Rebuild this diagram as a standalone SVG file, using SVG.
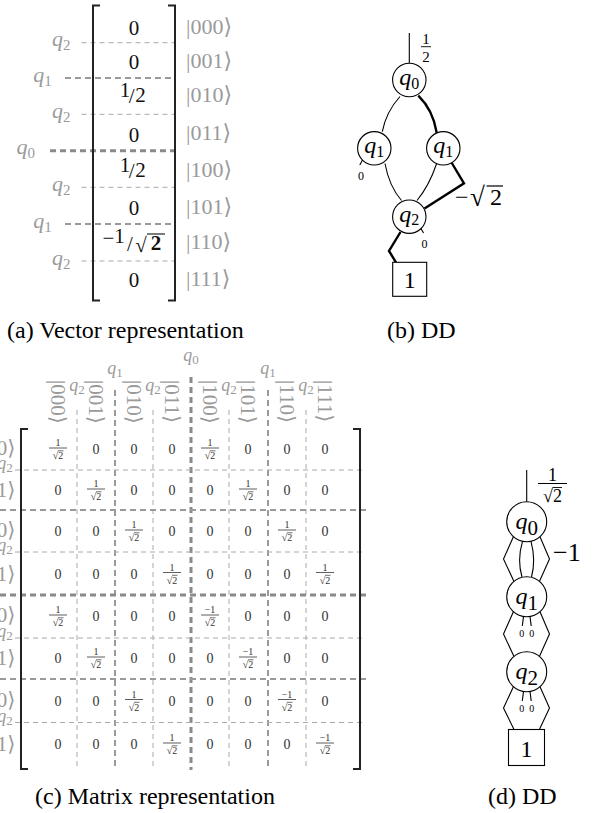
<svg xmlns="http://www.w3.org/2000/svg" width="603" height="813" viewBox="0 0 603 813">
<style>
text{font-family:"Liberation Serif","DejaVu Serif","DejaVu Sans",serif}
.q{font-style:italic}
.l2{stroke:#aaa;stroke-width:1;stroke-dasharray:5 4;fill:none}
.l1{stroke:#9a9a9a;stroke-width:2;stroke-dasharray:6 4;fill:none}
.l0{stroke:#8a8a8a;stroke-width:3;stroke-dasharray:6 4;fill:none}
.br{stroke:#222;stroke-width:2;fill:none}
.e{stroke:#000;stroke-width:1.1;fill:none}
.E{stroke:#000;stroke-width:2.4;fill:none}
.n{fill:#fff;stroke:#000;stroke-width:1.1}
.v{font-size:21px;fill:#111;text-anchor:middle}
.ket{font-size:22px;fill:#9a9a9a}
.ck{font-size:21px;fill:#9a9a9a}
.lab{font-size:22px;fill:#9a9a9a;text-anchor:end}
.cl{font-size:18px;fill:#9a9a9a;text-anchor:middle}
.z{font-size:14px;fill:#333;text-anchor:middle}
.fr{font-size:10px;fill:#333;text-anchor:middle}
.cap{font-size:24px;fill:#000}
.nl{font-size:24px;fill:#000;text-anchor:middle}
</style>
<defs>
  <!-- stacked 1/sqrt2 entry, centred on its origin -->
  <g id="f">
    <text class="fr" x="0" y="-3">1</text>
    <path d="M-9,-1H9" stroke="#333" stroke-width="0.8"/>
    <text class="fr" x="0" y="10">√2</text>
    <path d="M0,1.8H5.5" stroke="#333" stroke-width="0.7"/>
  </g>
  <g id="nf">
    <text class="fr" x="0" y="-3">−1</text>
    <path d="M-9,-1H9" stroke="#333" stroke-width="0.8"/>
    <text class="fr" x="0" y="10">√2</text>
    <path d="M0,1.8H5.5" stroke="#333" stroke-width="0.7"/>
  </g>
</defs>

<!-- (a) state vector -->
<g id="vector">
  <g id="vector-lines">
    <path class="l2" d="M81.5,42.7H175"/>
    <path class="l1" d="M65,78H175"/>
    <path class="l2" d="M81.5,114.3H175"/>
    <path class="l0" d="M50,150.7H175"/>
    <path class="l2" d="M81.5,187.3H175"/>
    <path class="l1" d="M65,224H175"/>
    <path class="l2" d="M81.5,261H175"/>
  </g>
  <path class="br" d="M100,5.5H93V300.5H100"/>
  <path class="br" d="M168,5.5H175V300.5H168"/>
  <g id="vector-labels">
    <text class="lab" x="70.5" y="46.2"><tspan class="q">q</tspan><tspan font-size="15" dy="4">2</tspan></text>
    <text class="lab" x="51.7" y="81.5"><tspan class="q">q</tspan><tspan font-size="15" dy="4">1</tspan></text>
    <text class="lab" x="70.5" y="117.8"><tspan class="q">q</tspan><tspan font-size="15" dy="4">2</tspan></text>
    <text class="lab" x="35" y="154.2"><tspan class="q">q</tspan><tspan font-size="15" dy="4">0</tspan></text>
    <text class="lab" x="70.5" y="190.8"><tspan class="q">q</tspan><tspan font-size="15" dy="4">2</tspan></text>
    <text class="lab" x="51.7" y="227.5"><tspan class="q">q</tspan><tspan font-size="15" dy="4">1</tspan></text>
    <text class="lab" x="70.5" y="264.5"><tspan class="q">q</tspan><tspan font-size="15" dy="4">2</tspan></text>
  </g>
  <g id="vector-entries">
    <text class="v" x="134" y="35">0</text>
    <text class="v" x="134" y="68.5">0</text>
    <text class="v" x="125" y="97" font-size="14">1</text>
    <text class="v" x="131.7" y="102.5" font-size="25">/</text>
    <text class="v" x="140.5" y="102" font-size="14">2</text>
    <text class="v" x="134" y="141.5">0</text>
    <text class="v" x="125" y="172" font-size="14">1</text>
    <text class="v" x="131.7" y="177.5" font-size="25">/</text>
    <text class="v" x="140.5" y="177" font-size="14">2</text>
    <text class="v" x="134" y="215">0</text>
    <text class="v" x="108.5" y="245">−</text>
    <text class="v" x="119.5" y="243" font-size="14">1</text>
    <text class="v" x="130" y="250.5" font-size="25">/</text>
    <text class="v" x="141" y="251.5" font-size="24">√</text>
    <text class="v" x="156" y="250" font-weight="bold">2</text>
    <path d="M147,234H165" stroke="#111" stroke-width="1.1"/>
    <text class="v" x="134" y="287">0</text>
  </g>
  <g id="vector-kets">
    <text class="ket" x="186" y="34">|000⟩</text>
    <text class="ket" x="186" y="67.5">|001⟩</text>
    <text class="ket" x="186" y="101.5">|010⟩</text>
    <text class="ket" x="186" y="140">|011⟩</text>
    <text class="ket" x="186" y="177">|100⟩</text>
    <text class="ket" x="186" y="214">|101⟩</text>
    <text class="ket" x="186" y="249">|110⟩</text>
    <text class="ket" x="186" y="286">|111⟩</text>
  </g>
</g>

<!-- (b) decision diagram of the vector -->
<g id="dd-vector">
  <g id="dd-vector-edges">
    <path class="e" d="M409.3,33V63.3"/>
    <path class="e" d="M400,96.5Q386,112 382.3,131.7"/>
    <path class="E" d="M418.3,95.7Q433,110 436.7,132.7"/>
    <path class="e" d="M385,163.5Q389,186 401.5,200.5"/>
    <path class="e" d="M436.5,164Q429,186 417,200.5"/>
    <path class="E" d="M451.5,162.5L464,183.3L424.5,208.5"/>
    <path class="E" d="M400.5,232L389,251L396,262.3"/>
    <path class="e" d="M362.5,160L359.8,165"/>
    <path class="e" d="M421,228.5L423.5,233"/>
  </g>
  <text x="426" y="43.5" font-size="15" text-anchor="middle">1</text>
  <path d="M421,46.7H431" stroke="#000" stroke-width="0.9"/>
  <text x="426" y="61.5" font-size="15" text-anchor="middle">2</text>
  <text x="361" y="180" font-size="12" text-anchor="middle">0</text>
  <text x="424.5" y="248.3" font-size="12" text-anchor="middle">0</text>
  <text x="455" y="205" font-size="24">−</text>
  <text x="470" y="206" font-size="27">√</text>
  <text x="490" y="205" font-size="24">2</text>
  <path d="M486.5,186H503" stroke="#000" stroke-width="1.2"/>
  <g id="b-q0"><circle class="n" cx="409.3" cy="80" r="16.7"/><text class="nl" x="409.3" y="85"><tspan class="q">q</tspan><tspan font-size="16" dy="3.5">0</tspan></text></g>
  <g id="b-q1a"><circle class="n" cx="374.3" cy="148.3" r="16.7"/><text class="nl" x="374.3" y="153.3"><tspan class="q">q</tspan><tspan font-size="16" dy="3.5">1</tspan></text></g>
  <g id="b-q1b"><circle class="n" cx="443.3" cy="148.3" r="16.7"/><text class="nl" x="443.3" y="153.3"><tspan class="q">q</tspan><tspan font-size="16" dy="3.5">1</tspan></text></g>
  <g id="b-q2"><circle class="n" cx="409.3" cy="216.7" r="16.7"/><text class="nl" x="409.3" y="221.7"><tspan class="q">q</tspan><tspan font-size="16" dy="3.5">2</tspan></text></g>
  <g id="b-one"><rect x="392.7" y="262.3" width="34" height="34" fill="#fff" stroke="#000" stroke-width="1.1"/><text class="nl" x="409.7" y="288">1</text></g>
</g>

<text class="cap" x="7" y="338">(a) Vector representation</text>
<text class="cap" x="387" y="338">(b) DD</text>

<!-- (c) operator matrix -->
<g id="matrix">
  <g id="matrix-lines">
    <path class="l2" d="M77,410V770"/>
    <path class="l1" d="M115,390V770"/>
    <path class="l2" d="M153,410V770"/>
    <path class="l0" d="M191,377V770"/>
    <path class="l2" d="M229,410V770"/>
    <path class="l1" d="M268,390V770"/>
    <path class="l2" d="M306,410V770"/>
    <path class="l2" d="M15,470H366"/>
    <path class="l1" d="M-20,510H366"/>
    <path class="l2" d="M15,552H366"/>
    <path class="l0" d="M-20,595H366"/>
    <path class="l2" d="M15,638H366"/>
    <path class="l1" d="M-20,679H366"/>
    <path class="l2" d="M15,722.5H366"/>
  </g>
  <path class="br" d="M28,429H21V769H28"/>
  <path class="br" d="M353,429H360V769H353"/>
  <g id="matrix-col-labels">
    <text class="cl" x="77" y="391"><tspan class="q">q</tspan><tspan font-size="13" dy="3">2</tspan></text>
    <text class="cl" x="115" y="374"><tspan class="q">q</tspan><tspan font-size="13" dy="3">1</tspan></text>
    <text class="cl" x="153" y="391"><tspan class="q">q</tspan><tspan font-size="13" dy="3">2</tspan></text>
    <text class="cl" x="191" y="361"><tspan class="q">q</tspan><tspan font-size="13" dy="3">0</tspan></text>
    <text class="cl" x="229" y="391"><tspan class="q">q</tspan><tspan font-size="13" dy="3">2</tspan></text>
    <text class="cl" x="268" y="374"><tspan class="q">q</tspan><tspan font-size="13" dy="3">1</tspan></text>
    <text class="cl" x="306" y="391"><tspan class="q">q</tspan><tspan font-size="13" dy="3">2</tspan></text>
    <text class="ck" transform="translate(51,380) rotate(90)">|000⟩</text>
    <text class="ck" transform="translate(89,380) rotate(90)">|001⟩</text>
    <text class="ck" transform="translate(127,380) rotate(90)">|010⟩</text>
    <text class="ck" transform="translate(165,380) rotate(90)">|011⟩</text>
    <text class="ck" transform="translate(203,380) rotate(90)">|100⟩</text>
    <text class="ck" transform="translate(241,380) rotate(90)">|101⟩</text>
    <text class="ck" transform="translate(280,380) rotate(90)">|110⟩</text>
    <text class="ck" transform="translate(318,380) rotate(90)">|111⟩</text>
  </g>
  <g id="matrix-row-labels">
    <text class="ck" x="15.5" y="455" text-anchor="end">|000⟩</text>
    <text class="ck" x="15.5" y="497" text-anchor="end">|001⟩</text>
    <text class="ck" x="15.5" y="537" text-anchor="end">|010⟩</text>
    <text class="ck" x="15.5" y="580.5" text-anchor="end">|011⟩</text>
    <text class="ck" x="15.5" y="622" text-anchor="end">|100⟩</text>
    <text class="ck" x="15.5" y="665" text-anchor="end">|101⟩</text>
    <text class="ck" x="15.5" y="706.5" text-anchor="end">|110⟩</text>
    <text class="ck" x="15.5" y="751" text-anchor="end">|111⟩</text>
    <text class="cl" x="5" y="469" text-anchor="end"><tspan class="q">q</tspan><tspan font-size="13" dy="3">2</tspan></text>
    <text class="cl" x="5" y="551" text-anchor="end"><tspan class="q">q</tspan><tspan font-size="13" dy="3">2</tspan></text>
    <text class="cl" x="5" y="637" text-anchor="end"><tspan class="q">q</tspan><tspan font-size="13" dy="3">2</tspan></text>
    <text class="cl" x="5" y="721.5" text-anchor="end"><tspan class="q">q</tspan><tspan font-size="13" dy="3">2</tspan></text>
  </g>
  <g id="matrix-entries">
    <use href="#f" x="58" y="449"/><text class="z" x="96" y="454">0</text><text class="z" x="134" y="454">0</text><text class="z" x="172" y="454">0</text>
    <use href="#f" x="210" y="449"/><text class="z" x="248" y="454">0</text><text class="z" x="287" y="454">0</text><text class="z" x="325" y="454">0</text>

    <text class="z" x="58" y="495">0</text><use href="#f" x="96" y="490"/><text class="z" x="134" y="495">0</text><text class="z" x="172" y="495">0</text>
    <text class="z" x="210" y="495">0</text><use href="#f" x="248" y="490"/><text class="z" x="287" y="495">0</text><text class="z" x="325" y="495">0</text>

    <text class="z" x="58" y="536">0</text><text class="z" x="96" y="536">0</text><use href="#f" x="134" y="531"/><text class="z" x="172" y="536">0</text>
    <text class="z" x="210" y="536">0</text><text class="z" x="248" y="536">0</text><use href="#f" x="287" y="531"/><text class="z" x="325" y="536">0</text>

    <text class="z" x="58" y="578.5">0</text><text class="z" x="96" y="578.5">0</text><text class="z" x="134" y="578.5">0</text><use href="#f" x="172" y="573.5"/>
    <text class="z" x="210" y="578.5">0</text><text class="z" x="248" y="578.5">0</text><text class="z" x="287" y="578.5">0</text><use href="#f" x="325" y="573.5"/>

    <use href="#f" x="58" y="616"/><text class="z" x="96" y="621">0</text><text class="z" x="134" y="621">0</text><text class="z" x="172" y="621">0</text>
    <use href="#nf" x="210" y="616"/><text class="z" x="248" y="621">0</text><text class="z" x="287" y="621">0</text><text class="z" x="325" y="621">0</text>

    <text class="z" x="58" y="663">0</text><use href="#f" x="96" y="658"/><text class="z" x="134" y="663">0</text><text class="z" x="172" y="663">0</text>
    <text class="z" x="210" y="663">0</text><use href="#nf" x="248" y="658"/><text class="z" x="287" y="663">0</text><text class="z" x="325" y="663">0</text>

    <text class="z" x="58" y="705.5">0</text><text class="z" x="96" y="705.5">0</text><use href="#f" x="134" y="700.5"/><text class="z" x="172" y="705.5">0</text>
    <text class="z" x="210" y="705.5">0</text><text class="z" x="248" y="705.5">0</text><use href="#nf" x="287" y="700.5"/><text class="z" x="325" y="705.5">0</text>

    <text class="z" x="58" y="749">0</text><text class="z" x="96" y="749">0</text><text class="z" x="134" y="749">0</text><use href="#f" x="172" y="744"/>
    <text class="z" x="210" y="749">0</text><text class="z" x="248" y="749">0</text><text class="z" x="287" y="749">0</text><use href="#nf" x="325" y="744"/>
  </g>
</g>

<!-- (d) decision diagram of the matrix -->
<g id="dd-matrix">
  <g id="dd-matrix-edges">
    <path class="e" d="M526.7,470V501.7"/>
    <path class="e" d="M513.5,536.5L503.5,559L514,581.5"/>
    <path class="e" d="M539.9,536.5L549.5,559L539.4,581.5"/>
    <path class="e" d="M522.5,541.3Q517,560 522,577"/>
    <path class="e" d="M531,541.3Q536,560 531.5,577"/>
    <path class="e" d="M513.5,611.5L503.5,634L514,656.5"/>
    <path class="e" d="M539.9,611.5L549.5,634L539.4,656.5"/>
    <path class="e" d="M523.5,616.5L522.3,626"/>
    <path class="e" d="M530,616.5L531.2,626"/>
    <path class="e" d="M513.5,686.5L503.5,708L514,729.5"/>
    <path class="e" d="M539.9,686.5L549.5,708L539.4,729.5"/>
    <path class="e" d="M523.5,691.5L522.3,701"/>
    <path class="e" d="M530,691.5L531.2,701"/>
  </g>
  <text x="552.5" y="480.5" font-size="18" text-anchor="middle">1</text>
  <path d="M538,483.5H567" stroke="#000" stroke-width="1"/>
  <text x="552.5" y="502" font-size="18" text-anchor="middle">√2</text>
  <path d="M552.5,487.5H562" stroke="#000" stroke-width="0.9"/>
  <text x="553" y="561" font-size="26">−1</text>
  <text x="521.7" y="637" font-size="10" text-anchor="middle">0</text>
  <text x="531.7" y="637" font-size="10" text-anchor="middle">0</text>
  <text x="521.7" y="712" font-size="10" text-anchor="middle">0</text>
  <text x="531.7" y="712" font-size="10" text-anchor="middle">0</text>
  <g id="d-q0"><circle class="n" cx="526.7" cy="521.7" r="20"/><text class="nl" x="526.7" y="528.5" font-size="30"><tspan class="q">q</tspan><tspan font-size="21" dy="6">0</tspan></text></g>
  <g id="d-q1"><circle class="n" cx="526.7" cy="596.7" r="20"/><text class="nl" x="526.7" y="603.5" font-size="30"><tspan class="q">q</tspan><tspan font-size="21" dy="6">1</tspan></text></g>
  <g id="d-q2"><circle class="n" cx="526.7" cy="671.7" r="20"/><text class="nl" x="526.7" y="678.5" font-size="30"><tspan class="q">q</tspan><tspan font-size="21" dy="6">2</tspan></text></g>
  <g id="d-one"><rect x="508.5" y="729.5" width="36" height="36" fill="#fff" stroke="#000" stroke-width="1.1"/><text class="nl" x="526.5" y="757" font-size="28">1</text></g>
</g>

<text class="cap" x="35" y="804">(c) Matrix representation</text>
<text class="cap" x="488" y="804">(d) DD</text>
</svg>
